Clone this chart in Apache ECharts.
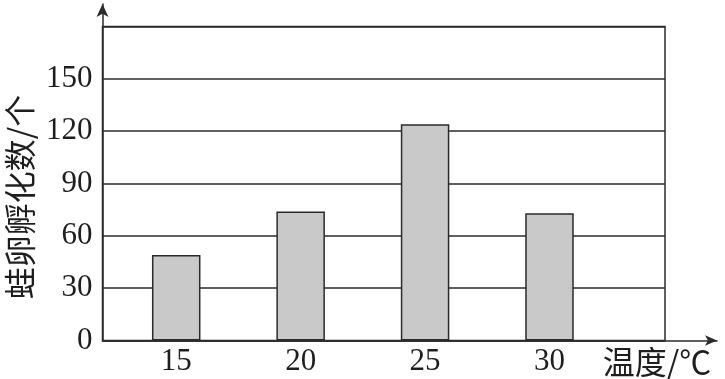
<!DOCTYPE html>
<html>
<head>
<meta charset="utf-8">
<script src="https://cdn.jsdelivr.net/npm/echarts@6/dist/echarts.min.js"></script>
<style>html,body{margin:0;padding:0;background:#fff}#c{width:725px;height:379px}</style>
</head>
<body>
<div id="c"></div>
<script>
const categories = ['15', '20', '25', '30'];
const hatchCounts = [49, 74, 124, 73];
const yTicks = [0, 30, 60, 90, 120, 150, 180];
const yLabelShown = [0, 30, 60, 90, 120, 150];
const xName = '温度/℃';
const yName = '蛙卵孵化数/个';

const lineColor = '#2b2b2b';
const textColor = '#1e1e1e';
const serif = '"Liberation Serif", "DejaVu Serif", serif';
const cjk = '"Noto Sans CJK SC", sans-serif';

const chart = echarts.init(document.getElementById('c'));
chart.setOption({
  animation: false,
  backgroundColor: '#fff',
  grid: [
    {left: 102.5, right: 60, top: 26.5, bottom: 38.5, show: true, borderColor: lineColor, borderWidth: 1.5},
    {left: 114, right: 113.3, top: 26.5, bottom: 38.5},
    {left: 102.5, right: 8, top: 4, bottom: 38.5}
  ],
  xAxis: [
    {gridIndex: 0, type: 'value', min: 0, max: 1, show: false},
    {gridIndex: 1, type: 'category', data: categories,
      axisLine: {show: false}, axisTick: {show: false},
      axisLabel: {color: textColor, fontFamily: serif, fontSize: 31, margin: 6}},
    {gridIndex: 2, type: 'value', min: 0, max: 1,
      axisLine: {show: true, symbol: ['none', 'arrow'], symbolSize: [8, 12], lineStyle: {color: lineColor, width: 1.5}},
      axisTick: {show: false}, axisLabel: {show: false}, splitLine: {show: false}}
  ],
  yAxis: [
    {gridIndex: 0, type: 'value', min: yTicks[0], max: yTicks[yTicks.length - 1], interval: 30,
      axisLine: {show: false}, axisTick: {show: false},
      splitLine: {show: true, lineStyle: {color: lineColor, width: 1.5}},
      axisLabel: {color: textColor, fontFamily: serif, fontSize: 31, margin: 10,
        formatter: v => yLabelShown.indexOf(v) >= 0 ? String(v) : ''}},
    {gridIndex: 1, type: 'value', min: yTicks[0], max: yTicks[yTicks.length - 1], show: false},
    {gridIndex: 2, type: 'value', min: 0, max: 1,
      axisLine: {show: true, symbol: ['none', 'arrow'], symbolSize: [9, 13], lineStyle: {color: lineColor, width: 1.5}},
      axisTick: {show: false}, axisLabel: {show: false}, splitLine: {show: false}}
  ],
  series: [{
    type: 'bar', xAxisIndex: 1, yAxisIndex: 1,
    data: hatchCounts, barWidth: 48.5,
    itemStyle: {color: '#c9c9c9', borderColor: lineColor, borderWidth: 1.5}
  }],
  graphic: [
    {type: 'text', x: 20, y: 197, rotation: Math.PI / 2,
      style: {text: yName, font: '32px ' + cjk, fill: textColor, align: 'center', verticalAlign: 'middle'}},
    {type: 'text', x: 657, y: 362,
      style: {text: xName, font: '32px ' + cjk, fill: textColor, align: 'center', verticalAlign: 'middle'}}
  ]
});
</script>
</body>
</html>
